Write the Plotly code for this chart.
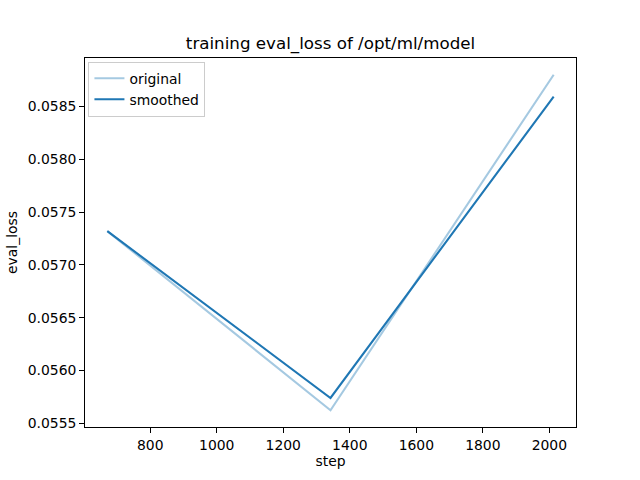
import plotly.graph_objects as go

steps = [671, 1342, 2013]
original = [0.05732, 0.055625, 0.05880]
smoothed = [0.05732, 0.055741, 0.058594]
x_ticks = [800, 1000, 1200, 1400, 1600, 1800, 2000]
y_ticks = [0.0555, 0.0560, 0.0565, 0.0570, 0.0575, 0.0580, 0.0585]

def padded(vals, frac=0.05):
    lo, hi = min(vals), max(vals)
    m = (hi - lo) * frac
    return [lo - m, hi + m]

font = dict(family="DejaVu Sans", size=13.9, color="black")

fig = go.Figure()
fig.add_trace(go.Scatter(x=steps, y=original, mode="lines", name="original",
                         line=dict(color="rgba(31,119,180,0.4)", width=2.08)))
fig.add_trace(go.Scatter(x=steps, y=smoothed, mode="lines", name="smoothed",
                         line=dict(color="#1f77b4", width=2.08)))

axis_common = dict(showgrid=False, zeroline=False, showline=True, linecolor="black",
                   linewidth=1, mirror=True, ticks="outside", ticklen=4.9, tickwidth=1,
                   tickcolor="black", tickfont=font)

fig.update_layout(
    width=640, height=480,
    margin=dict(l=80, r=64, t=58, b=53),
    paper_bgcolor="white", plot_bgcolor="white",
    font=font,
    title=dict(text="training eval_loss of /opt/ml/model", x=0.5, xanchor="center",
               xref="paper",
               y=1 - 43 / 480, yanchor="middle",
               font=dict(family="DejaVu Sans", size=16.7, color="black")),
    xaxis=dict(range=padded(steps), tickvals=x_ticks,
               ticktext=[str(v) for v in x_ticks],
               title=dict(text="step", font=font, standoff=4), **axis_common),
    yaxis=dict(range=padded(original + smoothed), tickvals=y_ticks,
               ticktext=[f"{v:.4f}" for v in y_ticks],
               title=dict(text="eval_loss", font=font, standoff=6), **axis_common),
    legend=dict(x=0.007, y=0.99, xanchor="left", yanchor="top",
                bgcolor="rgba(255,255,255,0.8)", bordercolor="#cccccc", borderwidth=1,
                font=font, tracegroupgap=0, itemwidth=30),
    showlegend=True,
)

fig.write_html("out.html")
